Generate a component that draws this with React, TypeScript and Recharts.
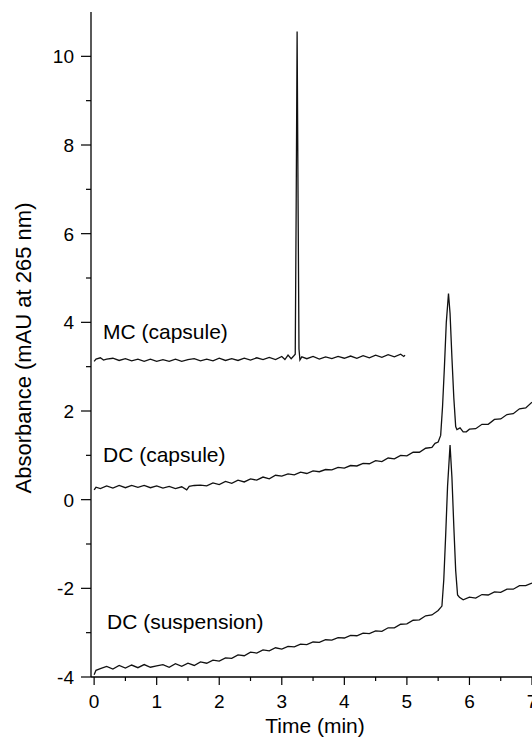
import React from "react";
import { LineChart, Line, XAxis, YAxis } from "recharts";

// time (min), absorbance (mAU)
const mcCapsule: [number, number][] = [
  [0, 3.12], [0.03, 3.17], [0.1, 3.2], [0.15, 3.15], [0.2, 3.17], [0.3, 3.19], [0.4, 3.14], [0.5, 3.18],
  [0.6, 3.13], [0.7, 3.17], [0.8, 3.12], [0.9, 3.17], [1.0, 3.12], [1.1, 3.16], [1.2, 3.12],
  [1.3, 3.17], [1.4, 3.12], [1.5, 3.16], [1.6, 3.18], [1.7, 3.13], [1.8, 3.17], [1.9, 3.13],
  [2.0, 3.19], [2.1, 3.14], [2.2, 3.18], [2.3, 3.14], [2.4, 3.19], [2.5, 3.15], [2.6, 3.2],
  [2.7, 3.16], [2.8, 3.21], [2.9, 3.16], [3.0, 3.23], [3.05, 3.16], [3.1, 3.26], [3.15, 3.18],
  [3.19, 3.24], [3.215, 3.28], [3.23, 6.6], [3.245, 10.56], [3.26, 6.8], [3.275, 3.4],
  [3.29, 3.15], [3.32, 3.22], [3.4, 3.18], [3.5, 3.23], [3.6, 3.17], [3.7, 3.22], [3.8, 3.18],
  [3.9, 3.23], [4.0, 3.19], [4.1, 3.24], [4.2, 3.19], [4.3, 3.25], [4.4, 3.2], [4.5, 3.26],
  [4.6, 3.21], [4.7, 3.27], [4.8, 3.22], [4.9, 3.28], [4.95, 3.23], [4.97, 3.26],
];

const dcCapsule: [number, number][] = [
  [0, 0.22], [0.03, 0.28], [0.1, 0.25], [0.2, 0.31], [0.3, 0.26], [0.4, 0.32], [0.5, 0.27],
  [0.6, 0.32], [0.7, 0.28], [0.8, 0.32], [0.9, 0.27], [1.0, 0.31], [1.1, 0.26], [1.2, 0.3],
  [1.3, 0.25], [1.4, 0.29], [1.48, 0.22], [1.52, 0.3], [1.6, 0.32], [1.7, 0.33], [1.8, 0.31],
  [1.9, 0.38], [2.0, 0.34], [2.1, 0.41], [2.2, 0.37], [2.3, 0.44], [2.4, 0.4], [2.5, 0.47],
  [2.6, 0.44], [2.7, 0.51], [2.8, 0.47], [2.9, 0.55], [3.0, 0.53], [3.1, 0.58], [3.2, 0.56],
  [3.3, 0.62], [3.4, 0.59], [3.5, 0.65], [3.6, 0.63], [3.7, 0.68], [3.8, 0.67], [3.9, 0.73],
  [4.0, 0.71], [4.1, 0.77], [4.2, 0.76], [4.3, 0.82], [4.4, 0.81], [4.5, 0.88], [4.6, 0.86],
  [4.7, 0.94], [4.8, 0.92], [4.9, 1.0], [5.0, 0.99], [5.1, 1.07], [5.2, 1.07], [5.3, 1.16],
  [5.4, 1.18], [5.45, 1.27], [5.5, 1.3], [5.54, 1.45], [5.57, 2.1], [5.6, 3.0], [5.63, 4.0],
  [5.665, 4.65], [5.69, 4.2], [5.72, 3.2], [5.75, 2.3], [5.78, 1.65], [5.8, 1.58], [5.85, 1.62],
  [5.9, 1.53], [5.95, 1.53], [6.0, 1.59], [6.1, 1.6], [6.2, 1.7], [6.3, 1.7], [6.4, 1.81],
  [6.5, 1.82], [6.6, 1.92], [6.7, 1.94], [6.8, 2.05], [6.9, 2.07], [7.0, 2.2],
];

const dcSuspension: [number, number][] = [
  [0, -3.95], [0.03, -3.85], [0.1, -3.81], [0.2, -3.76], [0.3, -3.82], [0.4, -3.74], [0.5, -3.8],
  [0.6, -3.73], [0.7, -3.79], [0.8, -3.72], [0.9, -3.78], [1.0, -3.75], [1.1, -3.72], [1.2, -3.78],
  [1.3, -3.7], [1.4, -3.76], [1.5, -3.69], [1.6, -3.74], [1.7, -3.66], [1.8, -3.69], [1.9, -3.62],
  [2.0, -3.64], [2.1, -3.57], [2.2, -3.58], [2.3, -3.5], [2.4, -3.52], [2.5, -3.44], [2.6, -3.46],
  [2.7, -3.39], [2.8, -3.41], [2.9, -3.34], [3.0, -3.37], [3.1, -3.31], [3.2, -3.32], [3.3, -3.26],
  [3.4, -3.27], [3.5, -3.21], [3.6, -3.22], [3.7, -3.16], [3.8, -3.17], [3.9, -3.11], [4.0, -3.12],
  [4.1, -3.06], [4.2, -3.07], [4.3, -3.01], [4.4, -3.02], [4.5, -2.96], [4.6, -2.97], [4.7, -2.89],
  [4.8, -2.89], [4.9, -2.81], [5.0, -2.8], [5.1, -2.72], [5.2, -2.71], [5.3, -2.62], [5.4, -2.6],
  [5.5, -2.5], [5.56, -2.4], [5.59, -1.8], [5.62, -0.8], [5.65, 0.3], [5.69, 1.23], [5.72, 0.5],
  [5.75, -0.6], [5.78, -1.6], [5.81, -2.15], [5.84, -2.2], [5.9, -2.26], [6.0, -2.2], [6.1, -2.22],
  [6.2, -2.14], [6.3, -2.15], [6.4, -2.08], [6.5, -2.09], [6.6, -2.02], [6.7, -2.02], [6.8, -1.94],
  [6.9, -1.94], [7.0, -1.88],
];

const xTicks = [0, 0.5, 1, 1.5, 2, 2.5, 3, 3.5, 4, 4.5, 5, 5.5, 6, 6.5, 7];
const yTicks = [-4, -3, -2, -1, 0, 1, 2, 3, 4, 5, 6, 7, 8, 9, 10];

const traceLabels = [
  { text: "MC (capsule)", x: 103, y: 339 },
  { text: "DC (capsule)", x: 103, y: 462 },
  { text: "DC (suspension)", x: 107, y: 629 },
];

const toRows = (pts: [number, number][]) => pts.map(([t, v]) => ({ t, v }));

const FONT = '"Liberation Sans", Arial, Helvetica, sans-serif';

function YTick(props: any) {
  const { x, y, payload } = props;
  const major = payload.value % 2 === 0;
  return (
    <g>
      <line x1={x - (major ? 10 : 5)} x2={x} y1={y} y2={y} stroke="#000" strokeWidth={1.2} />
      {major && (
        <text x={x - 17} y={y} dy="0.36em" textAnchor="end" fontSize={19} fontFamily={FONT} fill="#000">
          {payload.value}
        </text>
      )}
    </g>
  );
}

function XTick(props: any) {
  const { x, y, payload } = props;
  const major = Number.isInteger(payload.value);
  return (
    <g>
      <line x1={x} x2={x} y1={y} y2={y + (major ? 8 : 4)} stroke="#000" strokeWidth={1.2} />
      {major && (
        <text x={x} y={y + 31} textAnchor="middle" fontSize={19} fontFamily={FONT} fill="#000">
          {payload.value}
        </text>
      )}
    </g>
  );
}

export default function App() {
  return (
    <div style={{ position: "absolute", left: 0, top: 0, width: 532, height: 738, overflow: "hidden", background: "#fff" }}>
      <LineChart width={540} height={738} margin={{ top: 12, right: 8, left: 0, bottom: 0 }}>
        <XAxis
          dataKey="t"
          type="number"
          domain={[-0.05, 7]}
          ticks={xTicks}
          interval={0}
          tickSize={0}
          tickMargin={0}
          tickLine={false}
          tick={<XTick />}
          height={61}
          axisLine={{ stroke: "#000", strokeWidth: 1.3 }}
          allowDataOverflow
        />
        <YAxis
          type="number"
          domain={[-4, 11]}
          ticks={yTicks}
          interval={0}
          tickSize={0}
          tickMargin={0}
          tickLine={false}
          tick={<YTick />}
          width={91}
          axisLine={{ stroke: "#000", strokeWidth: 1.3 }}
          allowDataOverflow
        />
        <Line data={toRows(mcCapsule)} dataKey="v" type="linear" stroke="#111" strokeWidth={1.3} dot={false} isAnimationActive={false} />
        <Line data={toRows(dcCapsule)} dataKey="v" type="linear" stroke="#111" strokeWidth={1.3} dot={false} isAnimationActive={false} />
        <Line data={toRows(dcSuspension)} dataKey="v" type="linear" stroke="#111" strokeWidth={1.3} dot={false} isAnimationActive={false} />
      </LineChart>
      <svg width={532} height={738} style={{ position: "absolute", left: 0, top: 0, pointerEvents: "none" }}>
        {traceLabels.map((l) => (
          <text key={l.text} x={l.x} y={l.y} fontSize={21} fontFamily={FONT} fill="#000">
            {l.text}
          </text>
        ))}
        <text x={315} y={733} textAnchor="middle" fontSize={21} fontFamily={FONT} fill="#000">
          Time (min)
        </text>
        <text
          x={31}
          y={348}
          textAnchor="middle"
          fontSize={22}
          fontFamily={FONT}
          fill="#000"
          transform="rotate(-90 31 348)"
        >
          Absorbance (mAU at 265 nm)
        </text>
      </svg>
    </div>
  );
}
